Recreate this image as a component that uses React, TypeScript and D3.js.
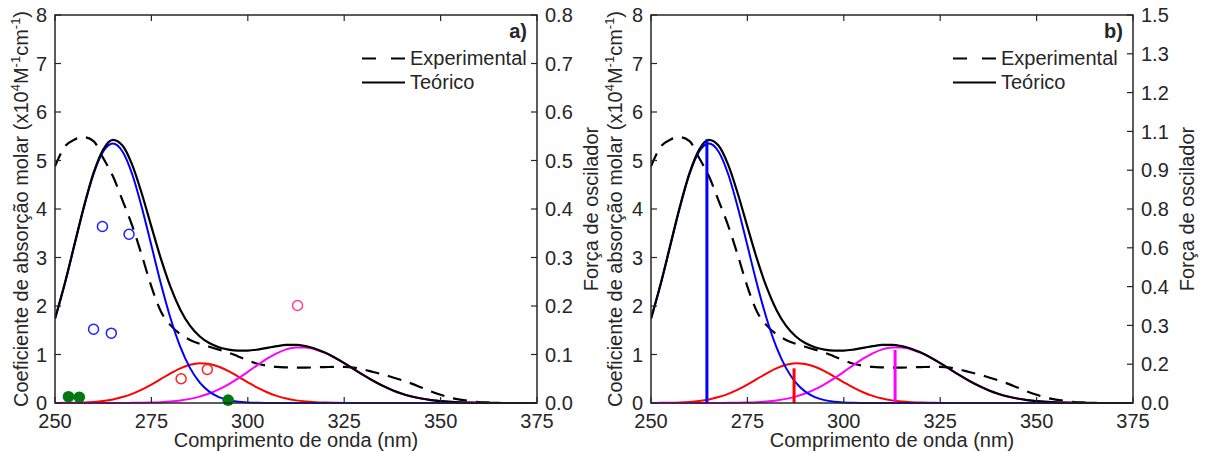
import React from "react";
import * as d3 from "d3";

// ---------- data ----------
const wavelengths = [250, 252.5, 255, 257.5, 260, 262.5, 265, 267.5, 270, 272.5, 275, 277.5, 280, 282.5, 285, 287.5, 290, 292.5, 295, 297.5, 300, 302.5, 305, 307.5, 310, 312.5, 315, 317.5, 320, 322.5, 325, 327.5, 330, 332.5, 335, 337.5, 340, 342.5, 345, 347.5, 350, 352.5, 355, 357.5, 360, 362.5, 365, 367.5, 370, 372.5, 375];

const experimental = [4.88, 5.28, 5.43, 5.48, 5.40, 5.05, 4.68, 4.18, 3.66, 3.05, 2.40, 1.88, 1.60, 1.42, 1.30, 1.22, 1.16, 1.10, 1.04, 0.96, 0.88, 0.81, 0.77, 0.745, 0.735, 0.73, 0.73, 0.735, 0.74, 0.745, 0.745, 0.73, 0.69, 0.64, 0.59, 0.53, 0.47, 0.40, 0.32, 0.24, 0.17, 0.11, 0.07, 0.04, 0.02, 0.01, 0, 0, 0, 0, 0];

const teorico = [1.738, 2.453, 3.251, 4.05, 4.745, 5.228, 5.425, 5.308, 4.914, 4.319, 3.636, 2.965, 2.382, 1.925, 1.596, 1.377, 1.236, 1.15, 1.101, 1.079, 1.081, 1.102, 1.136, 1.171, 1.197, 1.2, 1.173, 1.12, 1.04, 0.939, 0.823, 0.698, 0.574, 0.458, 0.354, 0.265, 0.192, 0.135, 0.092, 0.06, 0.038, 0.024, 0.014, 0.008, 0.005, 0.002, 0.001, 0, 0, 0, 0];

const bandBlue = [1.737, 2.45, 3.245, 4.038, 4.722, 5.185, 5.35, 5.185, 4.722, 4.038, 3.245, 2.45, 1.737, 1.157, 0.724, 0.426, 0.235, 0.122, 0.059, 0.027, 0.012, 0.005, 0.002, 0, 0, 0, 0, 0, 0, 0, 0, 0, 0, 0, 0, 0, 0, 0, 0, 0, 0, 0, 0, 0, 0, 0, 0, 0, 0, 0, 0];

const bandRed = [0.001, 0.003, 0.006, 0.012, 0.023, 0.043, 0.074, 0.122, 0.189, 0.276, 0.381, 0.497, 0.613, 0.715, 0.787, 0.819, 0.805, 0.748, 0.657, 0.545, 0.427, 0.316, 0.221, 0.146, 0.091, 0.054, 0.03, 0.016, 0.008, 0.004, 0.002, 0, 0, 0, 0, 0, 0, 0, 0, 0, 0, 0, 0, 0, 0, 0, 0, 0, 0, 0, 0];

const bandMagenta = [0, 0, 0, 0, 0, 0, 0.001, 0.001, 0.003, 0.005, 0.01, 0.018, 0.032, 0.053, 0.085, 0.132, 0.196, 0.28, 0.385, 0.507, 0.642, 0.781, 0.913, 1.025, 1.106, 1.146, 1.143, 1.104, 1.032, 0.935, 0.821, 0.698, 0.574, 0.458, 0.354, 0.265, 0.192, 0.135, 0.092, 0.06, 0.038, 0.024, 0.014, 0.008, 0.005, 0.002, 0.001, 0, 0, 0, 0];

// panel a: calculated oscillator strengths (right axis)
const markersBlue = [[262.3, 0.364], [269.2, 0.348], [260.0, 0.152], [264.6, 0.144]];
const markersRed = [[282.7, 0.050], [289.5, 0.069]];
const markersPink = [[312.9, 0.201]];
const markersGreen = [[253.5, 0.013], [256.3, 0.012], [294.9, 0.006]];

// panel b: oscillator sticks (right axis)
const stickWavelengths = [264.5, 287.1, 313.3];
const stickStrengths = [1.02, 0.134, 0.205];
const stickColors = ["#0000ff", "#ff0000", "#ff00ff"];

const xTicks = [250, 275, 300, 325, 350, 375];
const leftTicks = [0, 1, 2, 3, 4, 5, 6, 7, 8];
const rightTicksA = [0, 0.1, 0.2, 0.3, 0.4, 0.5, 0.6, 0.7, 0.8];
const rightLabelsA = ["0.0", "0.1", "0.2", "0.3", "0.4", "0.5", "0.6", "0.7", "0.8"];
const rightTicksB = [0, 0.15, 0.3, 0.45, 0.6, 0.75, 0.9, 1.05, 1.2, 1.35, 1.5];
const rightLabelsB = ["0.0", "0.2", "0.3", "0.4", "0.6", "0.8", "0.9", "1.1", "1.2", "1.3", "1.5"];

const FONT = "'Liberation Sans', Arial, Helvetica, sans-serif";
const AX = "#262626";

type PanelProps = {
  id: string;
  x0: number;
  x1: number;
  rightMax: number;
  rightTicks: number[];
  rightLabels: string[];
  tag: string;
  legendX: number;
  leftTitleX: number;
  rightTitleX: number;
  showMarkers: boolean;
  showSticks: boolean;
};

function Panel(p: PanelProps) {
  const top = 15;
  const bottom = 403;
  const x = d3.scaleLinear().domain([250, 375]).range([p.x0, p.x1]);
  const yL = d3.scaleLinear().domain([0, 8]).range([bottom, top]);
  const yR = d3.scaleLinear().domain([0, p.rightMax]).range([bottom, top]);
  const line = (vals: number[]) =>
    d3
      .line<number>()
      .x((_, i) => x(wavelengths[i]))
      .y((d) => yL(d))
      .curve(d3.curveMonotoneX)(vals) || "";
  const tl = 6;
  const midY = (top + bottom) / 2;
  const midX = (p.x0 + p.x1) / 2;
  const clipId = "clip-" + p.id;
  return (
    <g>
      <defs>
        <clipPath id={clipId}>
          <rect x={p.x0} y={top - 2} width={p.x1 - p.x0} height={bottom - top + 3} />
        </clipPath>
      </defs>
      <g clipPath={`url(#${clipId})`}>
        <path d={line(experimental)} fill="none" stroke="#000" strokeWidth={2.2} strokeDasharray="14,9" />
        <path d={line(bandRed)} fill="none" stroke="#ff0000" strokeWidth={2} />
        <path d={line(bandMagenta)} fill="none" stroke="#ff00ff" strokeWidth={2} />
        <path d={line(bandBlue)} fill="none" stroke="#0000ff" strokeWidth={2} />
        <path d={line(teorico)} fill="none" stroke="#000" strokeWidth={2.2} />
      </g>
      {p.showSticks &&
        stickWavelengths.map((w, i) => (
          <line key={"s" + i} x1={x(w)} x2={x(w)} y1={yR(0)} y2={yR(stickStrengths[i])} stroke={stickColors[i]} strokeWidth={3} />
        ))}
      {p.showMarkers && (
        <g>
          {markersBlue.map((m, i) => (
            <circle key={"b" + i} cx={x(m[0])} cy={yR(m[1])} r={5} fill="none" stroke="#1f1fff" strokeWidth={1.5} />
          ))}
          {markersRed.map((m, i) => (
            <circle key={"r" + i} cx={x(m[0])} cy={yR(m[1])} r={5} fill="none" stroke="#ff2020" strokeWidth={1.5} />
          ))}
          {markersPink.map((m, i) => (
            <circle key={"p" + i} cx={x(m[0])} cy={yR(m[1])} r={5} fill="none" stroke="#ff3c96" strokeWidth={1.5} />
          ))}
          {markersGreen.map((m, i) => (
            <circle key={"g" + i} cx={x(m[0])} cy={yR(m[1])} r={5.8} fill="#007a10" stroke="none" />
          ))}
        </g>
      )}
      {/* frame */}
      <rect x={p.x0} y={top} width={p.x1 - p.x0} height={bottom - top} fill="none" stroke={AX} strokeWidth={1.5} />
      {/* x ticks */}
      {xTicks.map((t) => (
        <g key={"xt" + t}>
          <line x1={x(t)} x2={x(t)} y1={bottom} y2={bottom - tl} stroke={AX} strokeWidth={1.2} />
          <line x1={x(t)} x2={x(t)} y1={top} y2={top + tl} stroke={AX} strokeWidth={1.2} />
          <text x={x(t)} y={428} textAnchor="middle" fontSize={20} fontFamily={FONT} fill={AX}>
            {t}
          </text>
        </g>
      ))}
      {leftTicks.map((t) => (
        <g key={"yl" + t}>
          <line x1={p.x0} x2={p.x0 + tl} y1={yL(t)} y2={yL(t)} stroke={AX} strokeWidth={1.2} />
          <text x={p.x0 - 8} y={yL(t)} dy="0.36em" textAnchor="end" fontSize={20} fontFamily={FONT} fill={AX}>
            {t}
          </text>
        </g>
      ))}
      {p.rightTicks.map((t, i) => (
        <g key={"yr" + i}>
          <line x1={p.x1} x2={p.x1 - tl} y1={yR(t)} y2={yR(t)} stroke={AX} strokeWidth={1.2} />
          <text x={p.x1 + 8} y={yR(t)} dy="0.36em" textAnchor="start" fontSize={20} fontFamily={FONT} fill={AX}>
            {p.rightLabels[i]}
          </text>
        </g>
      ))}
      {/* titles */}
      <text x={midX} y={447} textAnchor="middle" fontSize={20} fontFamily={FONT} fill={AX}>
        Comprimento de onda (nm)
      </text>
      <text
        transform={`translate(${p.leftTitleX},${midY}) rotate(-90)`}
        textAnchor="middle"
        fontSize={20}
        fontFamily={FONT}
        fill={AX}
      >
        Coeficiente de absorção molar (x10
        <tspan fontSize={13} dy={-8}>4</tspan>
        <tspan dy={8}>M</tspan>
        <tspan fontSize={13} dy={-8}>-1</tspan>
        <tspan dy={8}>cm</tspan>
        <tspan fontSize={13} dy={-8}>-1</tspan>
        <tspan dy={8}>)</tspan>
      </text>
      <text
        transform={`translate(${p.rightTitleX},${midY}) rotate(-90)`}
        textAnchor="middle"
        fontSize={20}
        fontFamily={FONT}
        fill={AX}
      >
        Força de oscilador
      </text>
      {/* tag */}
      <text x={p.x1 - 10} y={38} textAnchor="end" fontSize={20} fontWeight="bold" fontFamily={FONT} fill={AX}>
        {p.tag}
      </text>
      {/* legend */}
      <line x1={p.legendX} x2={p.legendX + 43} y1={58.5} y2={58.5} stroke="#000" strokeWidth={2.2} strokeDasharray="14,15" />
      <text x={p.legendX + 48} y={64.5} fontSize={20} fontFamily={FONT} fill={AX}>
        Experimental
      </text>
      <line x1={p.legendX} x2={p.legendX + 43} y1={82.5} y2={82.5} stroke="#000" strokeWidth={2.2} />
      <text x={p.legendX + 48} y={89} fontSize={20} fontFamily={FONT} fill={AX}>
        Teórico
      </text>
    </g>
  );
}

export default function App() {
  return (
    <div style={{ position: "absolute", left: 0, top: 0, width: 1205, height: 452, background: "#fff" }}>
      <svg width={1205} height={452} style={{ display: "block" }}>
        <rect x={0} y={0} width={1205} height={452} fill="#fff" />
        <Panel
          id="a"
          x0={55}
          x1={537}
          rightMax={0.8}
          rightTicks={rightTicksA}
          rightLabels={rightLabelsA}
          tag="a)"
          legendX={362}
          leftTitleX={28}
          rightTitleX={598}
          showMarkers={true}
          showSticks={false}
        />
        <Panel
          id="b"
          x0={651}
          x1={1133}
          rightMax={1.5}
          rightTicks={rightTicksB}
          rightLabels={rightLabelsB}
          tag="b)"
          legendX={953}
          leftTitleX={622}
          rightTitleX={1194}
          showMarkers={false}
          showSticks={true}
        />
      </svg>
    </div>
  );
}
